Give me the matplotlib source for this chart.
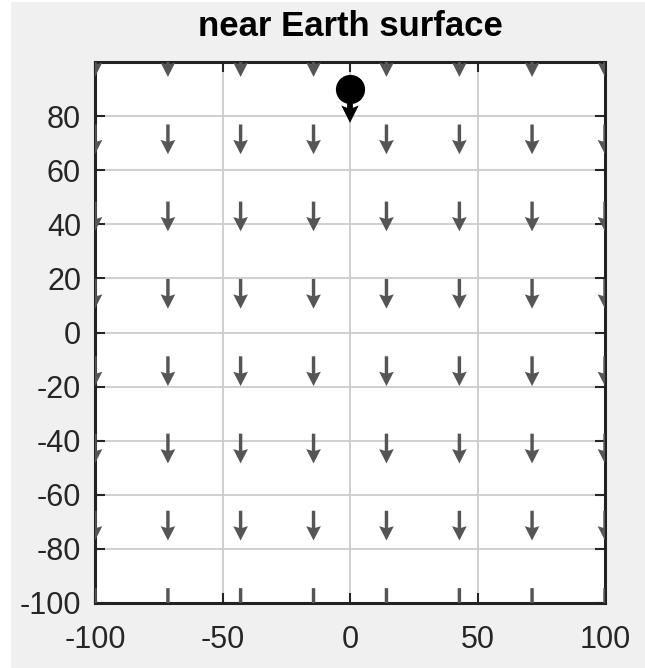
import numpy as np
import matplotlib.pyplot as plt
from matplotlib.patches import Rectangle

# grid of field points (8 x 8) and the gravity field (pointing down)
grid_x = [-100, -71.4, -42.9, -14.3, 14.3, 42.9, 71.4, 100]
grid_y = [-100, -71.4, -42.9, -14.3, 14.3, 42.9, 71.4, 100]
field_u = 0.0
field_v = -11.0

# the falling ball
ball_x = [0]
ball_y = [90]
ball_v = [-12.5]

xticks = [-100, -50, 0, 50, 100]
yticks = [-100, -80, -60, -40, -20, 0, 20, 40, 60, 80]

plt.rcParams['font.family'] = ['Liberation Sans', 'DejaVu Sans']
plt.rcParams['axes.unicode_minus'] = False

fig = plt.figure(figsize=(6.45, 6.68), dpi=100, facecolor='white')
# grey figure panel (screenshot has a thin white margin left/top)
fig.patches.append(Rectangle((11 / 645, 0), 1 - 11 / 645, 1 - 2 / 668,
                             transform=fig.transFigure, facecolor='#f0f0f0',
                             edgecolor='none', zorder=-10))

ax = fig.add_axes([95 / 645, 1 - 603 / 668, 510 / 645, 541 / 668])
ax.set_facecolor('white')

X, Y = np.meshgrid(grid_x, grid_y)
U = np.full(X.shape, field_u)
V = np.full(Y.shape, field_v)
ax.quiver(X, Y, U, V, pivot='middle', angles='xy', scale_units='xy', scale=1,
          units='xy', width=1.3, headwidth=4.3, headlength=4.2, headaxislength=3.7,
          color='#555555', zorder=3)

# ball + its velocity arrow
ax.quiver(ball_x, ball_y, [0], ball_v, pivot='tail',
          angles='xy', scale_units='xy', scale=1, units='xy', width=2.2,
          headwidth=3.0, headlength=3.0, headaxislength=2.6, color='black', zorder=4)
ax.plot(ball_x, ball_y, 'o', color='black', markersize=20, zorder=5)

ax.set_xlim(-100, 100)
ax.set_ylim(-100, 100)
ax.set_xticks(xticks)
ax.set_yticks(yticks)
ax.grid(True, color='#cccccc', linewidth=1.3)
ax.set_axisbelow(True)
ax.tick_params(direction='in', length=7, width=1.5, top=True, right=True,
               labelsize=22, colors='#262626')
ax.tick_params(axis='x', pad=16)
ax.tick_params(axis='y', pad=10)
for s in ax.spines.values():
    s.set_linewidth(2.2)
    s.set_color('#222222')

ax.set_title('near Earth surface', fontsize=25, fontweight='bold', pad=19)

fig.savefig('out.png', dpi=100, facecolor=fig.get_facecolor())
